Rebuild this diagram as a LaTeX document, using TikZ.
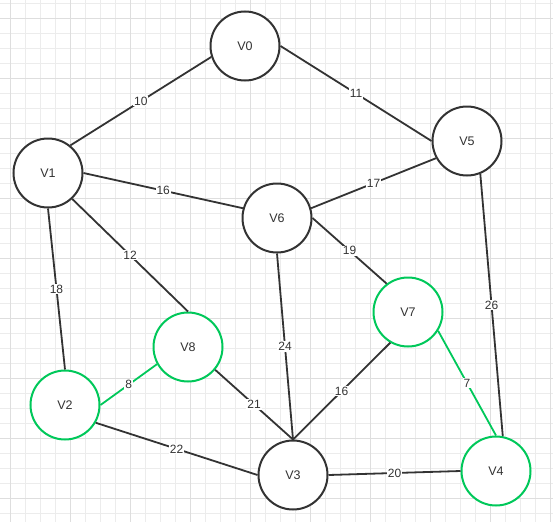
\documentclass[tikz,border=0pt]{standalone}
\usepackage{fontspec}
\setmainfont{Liberation Sans}
\usepackage{xcolor}
\usetikzlibrary{positioning,calc}
\definecolor{gridminor}{RGB}{236,236,236}
\definecolor{gridmajor}{RGB}{222,222,222}
\definecolor{vgreen}{RGB}{0,200,90}
\definecolor{edgegray}{RGB}{51,51,51}

\begin{document}
\begin{tikzpicture}[
x=1pt, y=-1pt,
vertex/.style={draw=edgegray, circle, line width=2pt, fill=white, minimum size=69pt, inner sep=0pt, font=\fontsize{12.5}{12.5}\selectfont, text=edgegray},
hivertex/.style={vertex, draw=vgreen},
edge/.style={draw=edgegray, line width=1.8pt},
hiedge/.style={draw=vgreen, line width=1.8pt},
weight/.style={midway, fill=white, inner sep=1pt, font=\fontsize{12}{12}\selectfont, text=edgegray}
]
\useasboundingbox (0,0) rectangle (553,522);
% background grid
\foreach \x in {-5,10,...,550} \draw[gridminor, line width=0.8pt] (\x,0) -- (\x,522);
\foreach \y in {3,18,...,520} \draw[gridminor, line width=0.8pt] (0,\y) -- (553,\y);
\foreach \x in {10,70,...,550} \draw[gridmajor, line width=0.8pt] (\x,0) -- (\x,522);
\foreach \y in {18,78,...,520} \draw[gridmajor, line width=0.8pt] (0,\y) -- (553,\y);

% vertices
\node[vertex] (v0) at (245,46) {V0};
\node[vertex] (v1) at (48,173) {V1};
\node[vertex] (v5) at (467,141) {V5};
\node[vertex] (v6) at (277,218) {V6};
\node[hivertex] (v7) at (408,312) {V7};
\node[hivertex] (v8) at (188,347) {V8};
\node[hivertex] (v2) at (65,405) {V2};
\node[vertex] (v3) at (293,475) {V3};
\node[hivertex] (v4) at (496,471) {V4};

% edges
\draw[edge] (v1.51) -- node[weight] {10} (v0.198);
\draw[edge] (v0.east) -- node[weight] {11} (v5.west);
\draw[edge] (v1.east) -- node[weight] {16} (v6.164);
\draw[edge] (v5.209) -- node[weight] {17} (v6.16);
\draw[edge] (v1.-47) -- node[weight] {12} (v8.north);
\draw[edge] (v1.south) -- node[weight] {18} (v2.north);
\draw[edge] (v6.east) -- node[weight] {19} (v7.127);
\draw[edge] (v5.-68) -- node[weight] {26} (v4.79);
\draw[edge] (v6.south) -- node[weight] {24} (v3.north);
\draw[hiedge] (v2.east) -- node[weight] {8} (v8.209);
\draw[edge] (v8.-40) -- node[weight] {21} (v3.north);
\draw[edge] (v7.-120) -- node[weight] {16} (v3.north);
\draw[hiedge] (v7.-32) -- node[weight] {7} (v4.north);
\draw[edge] (v2.-30) -- node[weight] {22} (v3.west);
\draw[edge] (v3.east) -- node[weight] {20} (v4.west);
\end{tikzpicture}
\end{document}
